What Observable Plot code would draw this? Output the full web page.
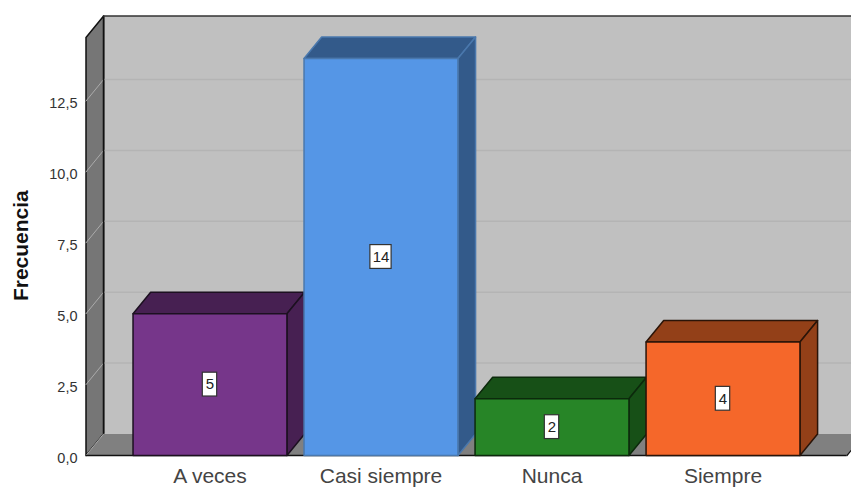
<!DOCTYPE html>
<html>
<head>
<meta charset="utf-8">
<script src="https://cdn.jsdelivr.net/npm/d3@7"></script>
<script src="https://cdn.jsdelivr.net/npm/@observablehq/plot@0.6"></script>
<style>
html,body{margin:0;padding:0;background:#fff;overflow:hidden}
svg{overflow:hidden;display:block}
</style>
</head>
<body>
<div id="chart"></div>
<script>
const categories = ["A veces", "Casi siempre", "Nunca", "Siempre"];
const values = [5, 14, 2, 4];
const frontColors = ["#76368A", "#5596E6", "#278527", "#F5672A"];
const sideColors = ["#472052", "#335A8A", "#175017", "#934018"];
const edgeColors = ["#1c1020", "#4a78ad", "#0c2a0c", "#2a1408"];
const yTicks = [0, 2.5, 5, 7.5, 10, 12.5];

const FONT = "Liberation Sans, Arial, sans-serif";
const halfBar = 0.45, depthX = 0.103, depthY = 0.76;
const xMin = -0.725, xMax = 3.725, yMax = 14, wallTop = 14.74;
const fmt = d => d.toFixed(1).replace(".", ",");

const poly = (id, fill, stroke, pts) => pts.map(([x, y]) => ({id, fill, stroke, x, y}));

// 3D walls
const wx = xMin + depthX, wxr = xMax + depthX;
const walls = [
  ...poly("back", "#C0C0C0", "none", [[wx,depthY],[wxr,depthY],[wxr,wallTop+depthY],[wx,wallTop+depthY]]),
  ...poly("left", "#767676", "#111", [[xMin,0],[wx,depthY],[wx,wallTop+depthY],[xMin,wallTop]]),
  ...poly("floor", "#808080", "none", [[xMin,0],[wx,depthY],[wxr,depthY],[xMax,0]])
];

// 3D bars
const bars = values.flatMap((v, i) => {
  const a = i - halfBar, b = i + halfBar;
  return [
    ...poly("top"+i, sideColors[i], edgeColors[i], [[a,v],[a+depthX,v+depthY],[b+depthX,v+depthY],[b,v]]),
    ...poly("side"+i, sideColors[i], edgeColors[i], [[b,0],[b+depthX,depthY],[b+depthX,v+depthY],[b,v]]),
    ...poly("front"+i, frontColors[i], edgeColors[i], [[a,0],[b,0],[b,v],[a,v]])
  ];
});

const gridBack = yTicks.slice(1).flatMap(t => [
  {id:"g"+t, x:wx, y:t+depthY}, {id:"g"+t, x:wxr, y:t+depthY}
]);
const gridLeft = yTicks.flatMap(t => [
  {id:"l"+t, x:xMin, y:t}, {id:"l"+t, x:wx, y:t+depthY}
]);
const labels = values.map((v, i) => ({
  i, v, mid: v/2, hw: String(v).length > 1 ? 0.062 : 0.042, hh: 0.42
}));

const chart = Plot.plot({
  width: 851, height: 487,
  marginLeft: 85, marginRight: 5, marginTop: 16, marginBottom: 32,
  style: {fontFamily: FONT, background: "#fff"},
  x: {type: "linear", domain: [xMin, xMax], range: [85.5, 846.5], axis: null},
  y: {type: "linear", domain: [0, yMax], range: [455, 58], axis: null},
  marks: [
    Plot.line(walls, {x:"x", y:"y", z:"id", fill:"fill", stroke:"stroke", curve:"linear-closed", strokeWidth:1.5}),
    Plot.line(gridBack, {x:"x", y:"y", z:"id", stroke:"#B4B4B4", strokeWidth:1.5}),
    Plot.line(gridLeft, {x:"x", y:"y", z:"id", stroke:"#ABABAB", strokeWidth:1}),
    Plot.ruleX([wx], {y1:depthY, y2:wallTop+depthY, stroke:"#111", strokeWidth:1.5}),
    Plot.ruleY([wallTop+depthY], {x1:wx, x2:wxr, stroke:"#333", strokeWidth:1.5}),
    Plot.ruleY([0], {x1:xMin, x2:xMax, stroke:"#111", strokeWidth:1.5}),
    Plot.line(poly("edge","none","#111",[[xMax,0],[wxr,depthY]]), {x:"x", y:"y", stroke:"#111", strokeWidth:1.2}),
    Plot.line(bars, {x:"x", y:"y", z:"id", fill:"fill", stroke:"stroke", curve:"linear-closed", strokeWidth:1.5, strokeLinejoin:"round"}),
    Plot.rect(labels, {x1:d=>d.i-d.hw, x2:d=>d.i+d.hw, y1:d=>d.mid-d.hh, y2:d=>d.mid+d.hh, fill:"#fff", stroke:"#333", strokeWidth:1.2}),
    Plot.text(labels, {x:"i", y:"mid", text:d=>String(d.v), fontSize:15, fill:"#222"}),
    Plot.axisY({ticks:yTicks, tickFormat:fmt, tickSize:0, tickPadding:8, fontSize:14.5, dy:2.5, label:null, color:"#333"}),
    Plot.axisX({ticks:[0,1,2,3], tickFormat:i=>categories[i], tickSize:0, tickPadding:13, fontSize:21, label:null, color:"#444"}),
    Plot.text(["Frecuencia"], {x:()=>xMin, y:()=>7.4, dx:-65, rotate:-90, fontSize:21, fontWeight:"bold", fill:"#111"})
  ]
});
document.getElementById("chart").append(chart);
</script>
</body>
</html>
